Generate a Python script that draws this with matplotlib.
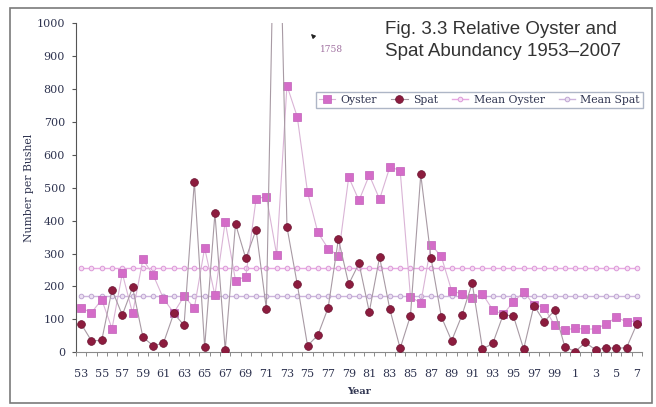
import matplotlib
matplotlib.use('Agg')
import matplotlib.pyplot as plt
from matplotlib.patches import Rectangle

W, H = 656, 407

years = list(range(1953, 2008))
oyster = [135, 120, 160, 72, 240, 118, 282, 235, 163, 120,
          170, 135, 317, 173, 397, 218, 230, 466, 473, 296,
          810, 715, 486, 364, 315, 293, 532, 461, 538, 465,
          563, 552, 169, 149, 327, 291, 187, 177, 164, 177,
          129, 115, 153, 183, 145, 136, 83, 68, 73, 70,
          71, 86, 106, 93, 95]
spat = [86, 35, 36, 190, 113, 197, 46, 20, 28, 118,
        82, 518, 15, 422, 7, 390, 285, 372, 131, 1758,
        380, 207, 20, 52, 135, 344, 207, 270, 123, 289,
        130, 12, 111, 540, 286, 108, 35, 112, 210, 10,
        27, 113, 111, 10, 142, 93, 127, 17, 2, 30,
        7, 14, 12, 14, 86]
mean_oyster = 255
mean_spat = 170
tick_labels = [str(y % 100) for y in years]
peak_label = "1758"

serif = "DejaVu Serif"
txt_col = "#2f3450"

fig = plt.figure(figsize=(W / 100, H / 100), dpi=100)
fig.patch.set_facecolor("white")

L, R, B, T = 76, 642, 352.3, 23
ax = fig.add_axes([L / W, 1 - B / H, (R - L) / W, (B - T) / H])
ax.set_facecolor("white")

x = list(range(len(years)))
ax.plot(x, [mean_oyster] * len(x), color="#e8a8e2", lw=1.0, marker="o", ms=3.3,
        mfc="#f6dcf4", mec="#dc9ad8", mew=0.7, zorder=1, label="Mean Oyster")
ax.plot(x, [mean_spat] * len(x), color="#cdb4dc", lw=1.0, marker="o", ms=3.3,
        mfc="#ece0f2", mec="#bfa6d2", mew=0.7, zorder=1, label="Mean Spat")
ax.plot(x, oyster, color="#dab4d6", lw=0.8, marker="s", ms=6.0,
        mfc="#d46cc8", mec="#c060b8", mew=0.5, zorder=3, label="Oyster")
ax.plot(x, spat, color="#a89aa4", lw=0.8, marker="o", ms=5.6,
        mfc="#8c1c3e", mec="#6a1230", mew=0.5, zorder=4, label="Spat")

ax.set_xlim(-0.5, len(x) - 0.5)
ax.set_ylim(0, 1000)
ax.set_yticks(range(0, 1001, 100))
ax.set_yticklabels([str(v) for v in range(0, 1001, 100)], fontfamily=serif,
                   fontsize=8, color=txt_col)
ax.set_xticks(x[::2])
ax.set_xticklabels(tick_labels[::2], fontfamily=serif, fontsize=8, color=txt_col)
ax.set_xticks([i - 0.5 for i in range(len(x) + 1)], minor=True)
ax.tick_params(axis="x", which="major", length=0, pad=12)
ax.tick_params(axis="x", which="minor", length=3, color="#777", direction="out")
ax.tick_params(axis="y", length=3, color="#555", direction="out", pad=5)

for s in ("top", "right"):
    ax.spines[s].set_visible(False)
ax.spines["left"].set_color("#555")
ax.spines["bottom"].set_color("#8a8a8a")

ax.set_ylabel("Number per Bushel", fontfamily=serif, fontsize=7.8, color=txt_col,
              labelpad=2)
ax.set_xlabel("Year", fontfamily=serif, fontsize=7, color=txt_col,
              fontweight="bold", labelpad=6)

h, l = ax.get_legend_handles_labels()
order = [2, 3, 0, 1]
leg = fig.legend([h[i] for i in order], [l[i] for i in order], ncol=4,
                 loc="center", bbox_to_anchor=((314 + 645) / 2 / W, 1 - 100 / H),
                 prop={"family": serif, "size": 7.8}, frameon=True,
                 fancybox=False, edgecolor="#9aa4b8", handlelength=1.5,
                 handletextpad=0.5, columnspacing=1.3, borderpad=0.3)
for t in leg.get_texts():
    t.set_color(txt_col)

fig.text(385 / W, 1 - 30 / H, "Fig. 3.3 Relative Oyster and", fontfamily="Liberation Sans",
         fontsize=13.5, color="#333333", ha="left", va="center")
fig.text(385 / W, 1 - 52 / H, "Spat Abundancy 1953\u20132007", fontfamily="Liberation Sans",
         fontsize=13.5, color="#333333", ha="left", va="center")

fig.text(332 / W, 1 - 50 / H, peak_label, fontfamily=serif, fontsize=6.5,
         color="#a070a0", ha="center", va="center")
fig.add_artist(matplotlib.patches.FancyArrowPatch(
    (316 / W, 1 - 39 / H), (309 / W, 1 - 32 / H), transform=fig.transFigure,
    arrowstyle="-|>", mutation_scale=6, color="#222", lw=0.8))

fig.add_artist(Rectangle((10 / W, 1 - 403 / H), (652 - 10) / W, (403 - 8) / H,
                         transform=fig.transFigure, fill=False, ec="#7a7a7a", lw=1.2))

fig.savefig("out.png", dpi=100)
